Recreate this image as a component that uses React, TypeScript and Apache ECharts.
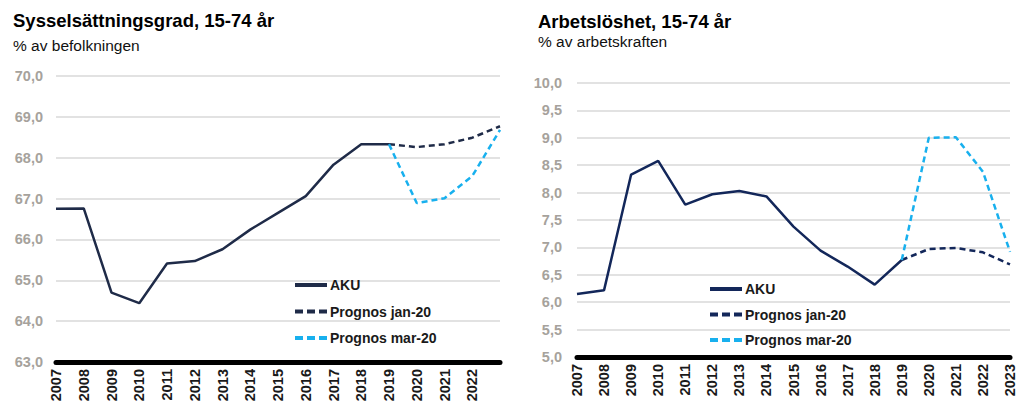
import React, { useEffect, useRef } from "react";
import * as echarts from "echarts";

const years = ["2007","2008","2009","2010","2011","2012","2013","2014","2015","2016","2017","2018","2019","2020","2021","2022","2023"];

// Sysselsättningsgrad
const empAKU = [66.75, 66.76, 64.70, 64.44, 65.41, 65.47, 65.76, 66.24, 66.65, 67.06, 67.83, 68.33, 68.33, null, null, null, null];
const empJan = [null, null, null, null, null, null, null, null, null, null, null, null, 68.33, 68.26, 68.33, 68.49, 68.77];
const empMar = [null, null, null, null, null, null, null, null, null, null, null, null, 68.33, 66.89, 67.01, 67.55, 68.68];

// Arbetslöshet
const unAKU = [6.15, 6.22, 8.33, 8.58, 7.78, 7.97, 8.03, 7.93, 7.38, 6.94, 6.65, 6.32, 6.77, null, null, null, null];
const unJan = [null, null, null, null, null, null, null, null, null, null, null, null, 6.77, 6.97, 6.99, 6.91, 6.69];
const unMar = [null, null, null, null, null, null, null, null, null, null, null, null, 6.77, 9.0, 9.01, 8.38, 6.92];

const NAVY_L = "#1f2b48";
const NAVY_R = "#13275a";
const LIGHT = "#18b0ee";
const FONT = "'Liberation Sans', Arial, sans-serif";

const SOLID_ICON = "path://M0,0h32v4h-32z";
const DASH_ICON = "path://M0,0h8v4h-8z M12,0h8v4h-8z M24,0h8v4h-8z";

export default function App() {
  const ref = useRef<HTMLDivElement>(null);
  useEffect(() => {
    const chart = echarts.init(ref.current!, null, { renderer: "svg" });
    const xAxisBase = (hideLast: boolean) => ({
      type: "category",
      data: years,
      boundaryGap: false,
      axisLine: { show: true, lineStyle: { color: "#000", width: 5 } },
      axisTick: { show: false },
      axisLabel: {
        rotate: 90,
        fontFamily: FONT,
        fontWeight: "bold",
        fontSize: 14.5,
        color: "#1a1a1a",
        margin: 7,
        interval: hideLast ? ((i: number) => i < 16) : 0,
      },
      splitLine: { show: false },
    });
    const yAxisBase = (min: number, max: number, interval: number, margin: number) => ({
      type: "value",
      min,
      max,
      interval,
      axisLine: { show: false },
      axisTick: { show: false },
      axisLabel: {
        fontFamily: FONT,
        fontWeight: "bold",
        fontSize: 14.5,
        color: "#a6a29c",
        margin,
        formatter: (v: number) => v.toFixed(1).replace(".", ","),
      },
      splitLine: { lineStyle: { color: "#d9d9d9", width: 1.5 } },
    });
    const lineSeries = (name: string, data: any[], color: string, dashed: boolean, idx: number) => ({
      name,
      type: "line",
      data,
      xAxisIndex: idx,
      yAxisIndex: idx,
      symbol: "none",
      connectNulls: false,
      lineStyle: { color, width: 2.5, type: dashed ? [6, 4] : "solid" },
      itemStyle: { color },
    });
    const legendText = { fontFamily: FONT, fontWeight: "bold", fontSize: 14, color: "#1a1a1a", padding: [0, 0, 0, -2] };
    chart.setOption({
      animation: false,
      textStyle: { fontFamily: FONT },
      title: [
        {
          text: "Sysselsättningsgrad, 15-74 år",
          subtext: "% av befolkningen",
          left: 8,
          top: 6,
          itemGap: 7,
          textStyle: { fontFamily: FONT, fontWeight: "bold", fontSize: 18.5, color: "#000" },
          subtextStyle: { fontFamily: FONT, fontSize: 15.5, color: "#111" },
        },
        {
          text: "Arbetslöshet, 15-74 år",
          subtext: "% av arbetskraften",
          left: 533,
          top: 7,
          itemGap: 2,
          textStyle: { fontFamily: FONT, fontWeight: "bold", fontSize: 18.5, color: "#000" },
          subtextStyle: { fontFamily: FONT, fontSize: 15.5, color: "#111" },
        },
      ],
      legend: [
        {
          orient: "vertical",
          left: 290,
          top: 273,
          itemWidth: 32,
          itemHeight: 4,
          itemGap: 12.5,
          itemStyle: { borderWidth: 0 },
          data: [
            { name: "AKU", icon: SOLID_ICON },
            { name: "Prognos jan-20", icon: DASH_ICON },
            { name: "Prognos mar-20", icon: DASH_ICON },
          ],
          textStyle: legendText,
        },
        {
          orient: "vertical",
          left: 705,
          top: 277,
          itemWidth: 32,
          itemHeight: 4,
          itemGap: 11.5,
          itemStyle: { borderWidth: 0 },
          data: [
            { name: "AKU ", icon: SOLID_ICON },
            { name: "Prognos jan-20 ", icon: DASH_ICON },
            { name: "Prognos mar-20 ", icon: DASH_ICON },
          ],
          formatter: (n: string) => n.trim(),
          textStyle: legendText,
        },
      ],
      grid: [
        { left: 56, right: 518, top: 76, bottom: 47 },
        { left: 577, right: 8, top: 83, bottom: 52 },
      ],
      xAxis: [
        { ...xAxisBase(true), gridIndex: 0 },
        { ...xAxisBase(false), gridIndex: 1 },
      ],
      yAxis: [
        { ...yAxisBase(63, 70, 1, 13), gridIndex: 0 },
        { ...yAxisBase(5, 10, 0.5, 15), gridIndex: 1 },
      ],
      series: [
        lineSeries("AKU", empAKU, NAVY_L, false, 0),
        lineSeries("Prognos jan-20", empJan, NAVY_L, true, 0),
        lineSeries("Prognos mar-20", empMar, LIGHT, true, 0),
        lineSeries("AKU ", unAKU, NAVY_R, false, 1),
        lineSeries("Prognos jan-20 ", unJan, NAVY_R, true, 1),
        lineSeries("Prognos mar-20 ", unMar, LIGHT, true, 1),
      ],
    });
    return () => chart.dispose();
  }, []);
  return (
    <div
      ref={ref}
      style={{ position: "fixed", left: 0, top: 0, width: 1018, height: 409, background: "#fff" }}
    />
  );
}
